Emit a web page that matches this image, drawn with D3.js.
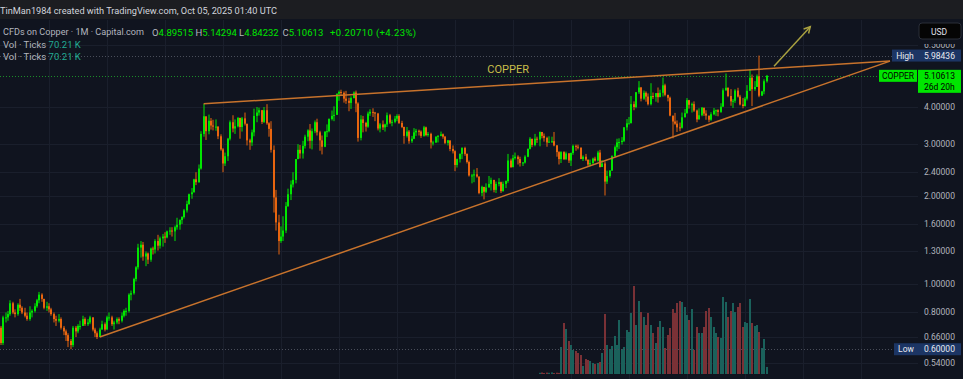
<!DOCTYPE html>
<html>
<head>
<meta charset="utf-8">
<title>Copper 1M</title>
<script src="https://cdn.jsdelivr.net/npm/d3@7"></script>
<style>
  body { margin: 0; background: #10141f; overflow: hidden; }
  text { font-family: Roboto, "Noto Sans", sans-serif; }
</style>
</head>
<body>
<div id="chart"></div>
<script>
// monthly CFD on copper, May 1999 .. Oct 2025 (USD/lb)
var firstMonth = -20;          // months from Jan 2001
var firstOpen = 0.71;

var closes = [
  0.63,0.77,0.77,0.79,0.86,0.80,0.79,0.85,
  0.83,0.80,0.78,0.76,0.80,0.81,0.84,0.88,0.92,0.89,0.83,0.84,
  0.82,0.79,0.76,0.75,0.76,0.71,0.69,0.67,0.64,0.62,0.71,0.69,
  0.72,0.72,0.76,0.73,0.74,0.77,0.70,0.68,0.66,0.70,0.73,0.70,
  0.77,0.77,0.73,0.74,0.76,0.75,0.78,0.81,0.81,0.92,0.93,1.04,
  1.14,1.33,1.36,1.24,1.27,1.21,1.32,1.31,1.40,1.35,1.43,1.45,
  1.44,1.51,1.52,1.51,1.56,1.59,1.65,1.69,1.78,1.87,2.02,2.05,
  2.27,2.22,2.47,3.24,3.72,3.31,3.59,3.46,3.43,3.43,3.18,2.87,
  2.57,2.72,3.12,3.55,3.38,3.44,3.67,3.42,3.66,3.51,3.08,3.03,
  3.28,3.73,3.83,3.90,3.56,3.90,3.52,3.37,2.86,1.97,1.62,1.40,
  1.45,1.52,1.84,2.02,2.18,2.26,2.66,2.86,2.78,2.95,3.17,3.33,
  3.07,3.31,3.55,3.28,3.08,2.93,3.30,3.31,3.64,3.73,3.76,4.44,
  4.50,4.47,4.27,4.20,4.13,4.29,4.48,4.11,3.14,3.63,3.53,3.43,
  3.80,3.85,3.83,3.80,3.38,3.49,3.41,3.49,3.75,3.54,3.56,3.65,
  3.73,3.53,3.42,3.19,3.30,3.06,3.12,3.28,3.32,3.30,3.19,3.41,
  3.21,3.24,3.03,3.03,3.17,3.19,3.23,3.17,3.02,3.08,2.88,2.83,
  2.54,2.66,2.77,2.90,2.77,2.60,2.34,2.34,2.36,2.32,2.04,2.14,
  2.06,2.13,2.19,2.26,2.09,2.19,2.22,2.07,2.19,2.24,2.63,2.50,
  2.68,2.71,2.66,2.58,2.59,2.71,2.88,3.12,2.97,3.12,3.10,3.29,
  3.19,3.14,3.03,3.05,3.06,2.96,2.81,2.66,2.81,2.66,2.78,2.63,
  2.79,2.95,2.93,2.91,2.66,2.71,2.65,2.55,2.58,2.67,2.63,2.80,
  2.50,2.57,2.23,2.33,2.43,2.72,2.92,3.03,3.04,3.07,3.41,3.52,
  3.52,4.09,4.00,4.49,4.66,4.27,4.47,4.34,4.09,4.36,4.33,4.46,
  4.32,4.47,4.74,4.40,4.30,3.74,3.57,3.51,3.41,3.40,3.69,3.81,
  4.22,4.07,4.09,3.89,3.63,3.75,3.98,3.80,3.74,3.62,3.78,3.89,
  3.90,3.85,4.01,4.56,4.65,4.36,4.18,4.20,4.55,4.34,4.08,4.03,
  4.27,4.54,5.03,4.60,4.68,5.09,4.37,4.52,4.89515,5.10613
];

var highs = [
  0.72,0.78,0.80,0.81,0.88,0.87,0.82,0.86,
  0.89,0.84,0.83,0.80,0.84,0.82,0.86,0.89,0.94,0.93,0.89,0.87,
  0.86,0.83,0.80,0.78,0.79,0.77,0.72,0.70,0.68,0.65,0.72,0.72,
  0.73,0.75,0.78,0.77,0.76,0.78,0.77,0.71,0.69,0.71,0.75,0.74,
  0.78,0.80,0.78,0.75,0.77,0.77,0.80,0.82,0.83,0.93,0.95,1.05,
  1.15,1.37,1.40,1.39,1.29,1.28,1.33,1.34,1.42,1.47,1.45,1.48,
  1.50,1.52,1.56,1.56,1.58,1.68,1.66,1.70,1.80,1.92,2.03,2.12,
  2.28,2.40,2.55,3.31,4.10,3.65,3.77,3.67,3.62,3.63,3.44,3.23,
  2.90,2.80,3.14,3.60,3.75,3.63,3.70,3.68,3.70,3.83,3.50,3.12,
  3.35,3.95,4.00,3.98,3.91,4.00,4.09,3.55,3.58,2.96,2.09,1.72,
  1.57,1.70,1.90,2.11,2.25,2.40,2.66,2.99,2.97,3.07,3.22,3.36,
  3.50,3.38,3.60,3.65,3.32,3.20,3.30,3.49,3.66,3.89,4.02,4.44,
  4.55,4.58,4.52,4.54,4.30,4.35,4.52,4.55,4.15,3.75,3.73,3.56,
  3.86,3.93,3.96,3.85,3.82,3.53,3.60,3.51,3.83,3.79,3.62,3.73,
  3.78,3.78,3.59,3.43,3.42,3.34,3.19,3.39,3.37,3.35,3.33,3.45,
  3.43,3.29,3.27,3.07,3.18,3.21,3.30,3.25,3.19,3.09,3.07,2.96,
  2.85,2.67,2.78,2.92,2.93,2.78,2.63,2.37,2.45,2.48,2.32,2.16,
  2.10,2.20,2.33,2.30,2.26,2.23,2.29,2.23,2.23,2.25,2.77,2.67,
  2.75,2.80,2.74,2.71,2.60,2.74,2.89,3.16,3.07,3.24,3.17,3.30,
  3.27,3.25,3.17,3.18,3.17,3.29,2.97,2.83,2.83,2.83,2.82,2.79,
  2.80,2.98,2.98,2.98,2.91,2.74,2.77,2.63,2.65,2.69,2.71,2.84,
  2.86,2.64,2.61,2.43,2.44,2.74,2.96,3.12,3.13,3.16,3.42,3.64,
  3.70,4.36,4.18,4.50,4.90,4.68,4.55,4.52,4.45,4.82,4.48,4.46,
  4.66,4.58,5.04,4.80,4.40,4.34,3.62,3.82,3.60,3.54,3.83,3.94,
  4.29,4.23,4.14,4.18,3.92,3.96,4.00,3.96,3.90,3.71,3.84,3.97,
  3.92,3.93,4.12,4.63,5.20,4.66,4.60,4.26,4.60,4.65,4.40,4.29,
  4.33,4.75,5.37,5.16,4.90,5.16,5.98436,4.54,4.97,5.14294
];

var lows = [
  0.62,0.62,0.74,0.75,0.78,0.79,0.77,0.78,
  0.81,0.79,0.77,0.75,0.75,0.77,0.80,0.83,0.86,0.87,0.82,0.81,
  0.80,0.78,0.74,0.72,0.74,0.70,0.67,0.64,0.61,0.60,0.61,0.66,
  0.68,0.70,0.72,0.72,0.72,0.73,0.69,0.66,0.65,0.66,0.70,0.69,
  0.70,0.75,0.72,0.70,0.73,0.73,0.74,0.77,0.78,0.80,0.88,0.92,
  1.02,1.12,1.23,1.20,1.15,1.17,1.19,1.26,1.27,1.30,1.32,1.34,
  1.38,1.43,1.47,1.45,1.40,1.53,1.53,1.60,1.67,1.75,1.86,1.95,
  2.05,2.17,2.21,2.45,3.17,3.09,3.23,3.35,3.33,3.32,3.11,2.84,
  2.40,2.52,2.62,3.08,3.28,3.24,3.41,3.12,3.30,3.46,2.96,2.86,
  2.95,3.18,3.55,3.74,3.50,3.53,3.48,3.17,2.80,1.75,1.52,1.26,
  1.38,1.40,1.49,1.83,1.93,2.13,2.20,2.66,2.67,2.67,2.89,3.06,
  2.89,2.87,3.26,3.20,2.84,2.76,2.92,3.16,3.28,3.60,3.58,3.80,
  4.20,4.37,4.14,4.10,3.87,3.94,4.28,3.84,3.05,3.08,3.28,3.30,
  3.40,3.73,3.70,3.58,3.33,3.28,3.34,3.30,3.42,3.50,3.44,3.52,
  3.58,3.50,3.39,3.00,3.15,3.00,3.02,3.11,3.19,3.20,3.14,3.17,
  3.18,3.17,2.89,2.96,3.02,3.03,3.18,3.12,2.99,2.96,2.83,2.78,
  2.42,2.49,2.59,2.66,2.73,2.57,2.32,2.20,2.22,2.30,2.02,1.99,
  1.94,2.04,2.13,2.08,2.05,2.04,2.15,2.04,2.06,2.12,2.21,2.48,
  2.49,2.65,2.55,2.51,2.52,2.57,2.70,2.87,2.92,2.94,3.02,2.94,
  3.13,3.05,2.93,3.02,3.02,2.94,2.71,2.55,2.58,2.64,2.64,2.58,
  2.52,2.75,2.84,2.87,2.66,2.62,2.62,2.52,2.52,2.55,2.61,2.61,
  2.49,2.50,2.00,2.19,2.30,2.43,2.70,2.83,2.88,2.98,3.04,3.33,
  3.52,3.53,3.90,3.96,4.43,4.18,4.23,4.17,4.05,4.05,4.26,4.17,
  4.14,4.34,4.34,4.35,4.18,3.72,3.13,3.48,3.29,3.31,3.38,3.69,
  3.80,3.95,3.83,3.85,3.55,3.63,3.72,3.73,3.62,3.55,3.59,3.75,
  3.73,3.72,3.82,4.01,4.54,4.32,4.04,3.97,4.13,4.31,4.05,3.96,
  4.02,4.21,4.55,4.03,4.54,4.70,4.32,4.37,4.42,4.84232
];

// volume (K ticks), Dec 2017 .. Oct 2025
var volFirstMonth = 203;
var volumes = [
  12,15,10,14,12,16,10,13,11,
  270,510,450,330,290,240,230,210,190,80,
  150,140,130,110,100,110,120,210,600,290,
  250,280,380,290,540,250,270,440,420,610,
  880,490,730,620,570,490,610,490,410,310,
  470,530,470,260,390,460,650,610,710,730,
  720,670,590,540,650,240,470,410,410,
  470,630,660,570,470,410,370,360,770,720,
  570,630,710,620,670,710,470,
  520,510,750,510,480,490,420,260,350,70.21
];

var priceTicks = [0.54, 0.66, 0.8, 1.0, 1.3, 1.6, 2.0, 2.4, 3.0, 4.0, 6.5];
var legendOHLC = [["O", "4.89515"], ["H", "5.14294"], ["L", "4.84232"], ["C", "5.10613"]];

// drawings: [month index, price]
var upperLine = [[64, 4.10], [348, 5.73]];
var lowerLine = [[21, 0.66], [348, 5.73]];
var arrowLine = [[300, 5.5], [315, 7.5]];
var labelPoint = [190, 5.35];

var W = 963, H = 379, axisX = 918;
var upColor = "#00e600", downColor = "#e8650f";

var svg = d3.select("#chart").append("svg").attr("width", W).attr("height", H);
svg.append("rect").attr("width", W).attr("height", H).attr("fill", "#10141f");

var x = d3.scaleLinear().domain([0, 288]).range([49, 745]);
var y = d3.scaleLog().domain([1, 4]).range([284, 107]);
var yVol = d3.scaleLinear().domain([0, 880]).range([374, 286]);

svg.append("clipPath").attr("id", "plot")
  .append("rect").attr("x", 0).attr("y", 20).attr("width", axisX).attr("height", H - 20);

var plot = svg.append("g").attr("clip-path", "url(#plot)");

// grid
plot.selectAll(".hg").data(priceTicks).enter().append("line")
  .attr("x1", 0).attr("x2", axisX)
  .attr("y1", function (d) { return Math.round(y(d)) + 0.5; })
  .attr("y2", function (d) { return Math.round(y(d)) + 0.5; })
  .attr("stroke", "#1a1f2c");
plot.selectAll(".vg").data(d3.range(-24, 384, 24)).enter().append("line")
  .attr("y1", 20).attr("y2", H)
  .attr("x1", function (d) { return Math.round(x(d)) + 0.5; })
  .attr("x2", function (d) { return Math.round(x(d)) + 0.5; })
  .attr("stroke", "#1a1f2c");

var candles = closes.map(function (c, i) {
  return { m: firstMonth + i, o: i === 0 ? firstOpen : closes[i - 1], h: highs[i], l: lows[i], c: c };
});
var byMonth = {};
candles.forEach(function (d) { byMonth[d.m] = d; });

// volume
plot.selectAll(".vol").data(volumes).enter().append("rect")
  .attr("x", function (d, i) { return Math.round(x(volFirstMonth + i)) - 1; })
  .attr("width", 2)
  .attr("y", function (d) { return yVol(d); })
  .attr("height", function (d) { return yVol(0) - yVol(d); })
  .attr("fill", function (d, i) {
    var k = byMonth[volFirstMonth + i];
    return k && k.c < k.o ? "#7a3136" : "#1a615b";
  });

// price lines
function dotted(v, color, x2) {
  plot.append("line").attr("x1", 0).attr("x2", x2)
    .attr("y1", Math.round(y(v)) + 0.5).attr("y2", Math.round(y(v)) + 0.5)
    .attr("stroke", color).attr("stroke-dasharray", "1,2");
}
dotted(d3.max(highs), "#4a4e5a", 892);
dotted(d3.min(lows), "#4a4e5a", 894);
dotted(closes[closes.length - 1], "#1b8c28", 879);

// candles
var g = plot.selectAll(".candle").data(candles).enter().append("g");
g.append("rect")
  .attr("x", function (d) { return Math.round(x(d.m)) - 0.5; })
  .attr("width", 1)
  .attr("y", function (d) { return y(d.h); })
  .attr("height", function (d) { return Math.max(1, y(d.l) - y(d.h)); })
  .attr("fill", function (d) { return d.c >= d.o ? upColor : downColor; });
g.append("rect")
  .attr("x", function (d) { return Math.round(x(d.m)) - 1; })
  .attr("width", 2)
  .attr("y", function (d) { return y(Math.max(d.o, d.c)); })
  .attr("height", function (d) { return Math.max(1, Math.abs(y(d.o) - y(d.c))); })
  .attr("fill", function (d) { return d.c >= d.o ? upColor : downColor; });

// trend lines
var line = d3.line().x(function (d) { return x(d[0]); }).y(function (d) { return y(d[1]); });
[upperLine, lowerLine].forEach(function (l) {
  plot.append("path").attr("d", line(l)).attr("fill", "none")
    .attr("stroke", "#c8732c").attr("stroke-width", 1.5);
});
plot.append("path").attr("d", line(arrowLine)).attr("fill", "none")
  .attr("stroke", "#a8a040").attr("stroke-width", 1.5);
// arrow head
var ax = x(arrowLine[1][0]), ay = y(arrowLine[1][1]);
var ang = Math.atan2(ay - y(arrowLine[0][1]), ax - x(arrowLine[0][0]));
plot.append("path")
  .attr("d", "M" + (ax - 7 * Math.cos(ang - 0.5)) + "," + (ay - 7 * Math.sin(ang - 0.5)) +
    "L" + ax + "," + ay + "L" + (ax - 7 * Math.cos(ang + 0.5)) + "," + (ay - 7 * Math.sin(ang + 0.5)))
  .attr("fill", "none").attr("stroke", "#a8a040").attr("stroke-width", 1.5);

plot.append("text").attr("x", x(labelPoint[0])).attr("y", y(labelPoint[1]))
  .attr("text-anchor", "middle").attr("dominant-baseline", "central")
  .attr("fill", "#c9bf4a").style("font-size", "11px").text("COPPER");

// top bar
svg.append("rect").attr("width", W).attr("height", 19).attr("fill", "#1c1d21");
svg.append("text").attr("x", 0).attr("y", 10).attr("dominant-baseline", "central")
  .attr("fill", "#d1d4dc").style("font-size", "9.2px")
  .text("TinMan1984 created with TradingView.com, Oct 05, 2025 01:40 UTC");

// legend
function legendText(xx, yy) {
  return svg.append("text").attr("x", xx).attr("y", yy).attr("dominant-baseline", "central")
    .style("font-size", "9.5px").attr("fill", "#b2b5be");
}
legendText(3, 32).style("font-size", "9.1px").text("CFDs on Copper \u00b7 1M \u00b7 Capital.com");
legendOHLC.forEach(function (p, i) {
  var t = legendText(152 + i * 43.5, 32);
  t.append("tspan").text(p[0]);
  t.append("tspan").attr("fill", upColor).text(p[1]);
});
legendText(330, 32).attr("fill", upColor).style("letter-spacing", "0.4px").text("+0.20710 (+4.23%)");
[44, 56].forEach(function (yy) {
  var t = legendText(3, yy);
  t.append("tspan").text("Vol \u00b7 Ticks ");
  t.append("tspan").attr("fill", "#22ab94").text(" 70.21 K");
});

// price axis
svg.append("clipPath").attr("id", "axis")
  .append("rect").attr("x", axisX).attr("y", 44).attr("width", W - axisX).attr("height", H - 44);
var fmt = d3.format(".5f");
svg.append("g").attr("clip-path", "url(#axis)")
  .selectAll("text").data(priceTicks).enter().append("text")
  .attr("x", 924).attr("y", function (d) { return y(d); })
  .attr("dominant-baseline", "central").attr("fill", "#b2b5be").style("font-size", "8.5px")
  .text(fmt);

svg.append("rect").attr("x", 919).attr("y", 23).attr("width", 42).attr("height", 16).attr("rx", 3)
  .attr("fill", "#050505").attr("stroke", "#2a2e39");
svg.append("text").attr("x", 931).attr("y", 31.5).attr("dominant-baseline", "central")
  .attr("fill", "#e0e3eb").style("font-size", "8.5px").text("USD");

function tag(label, value, v, bg, fg, lx) {
  var yy = y(v);
  svg.append("rect").attr("x", lx).attr("y", yy - 6).attr("width", axisX - lx).attr("height", 12)
    .attr("fill", bg);
  svg.append("text").attr("x", (lx + axisX) / 2).attr("y", yy).attr("text-anchor", "middle")
    .attr("dominant-baseline", "central").attr("fill", fg).style("font-size", "8.5px").text(label);
  svg.append("rect").attr("x", axisX).attr("y", yy - 6).attr("width", 43).attr("height", 12)
    .attr("fill", bg);
  svg.append("text").attr("x", 924).attr("y", yy).attr("dominant-baseline", "central")
    .attr("fill", fg).style("font-size", "8.5px").text(value);
}
tag("High", fmt(d3.max(highs)), d3.max(highs), "#1c3564", "#e8eaf0", 892);
tag("Low", fmt(d3.min(lows)), d3.min(lows), "#1c3564", "#e8eaf0", 894);

var last = closes[closes.length - 1];
svg.append("rect").attr("x", 879).attr("y", y(last) - 6).attr("width", 38).attr("height", 12).attr("fill", upColor);
svg.append("text").attr("x", 898).attr("y", y(last)).attr("text-anchor", "middle")
  .attr("dominant-baseline", "central").attr("fill", "#000").style("font-size", "8.5px").text("COPPER");
svg.append("rect").attr("x", axisX).attr("y", y(last) - 6).attr("width", 43).attr("height", 23).attr("fill", upColor);
svg.append("text").attr("x", 924).attr("y", y(last)).attr("dominant-baseline", "central")
  .attr("fill", "#000").style("font-size", "8.5px").text(fmt(last));
svg.append("text").attr("x", 924).attr("y", y(last) + 11).attr("dominant-baseline", "central")
  .attr("fill", "#000").style("font-size", "8.5px").text("26d 20h");
</script>
</body>
</html>
